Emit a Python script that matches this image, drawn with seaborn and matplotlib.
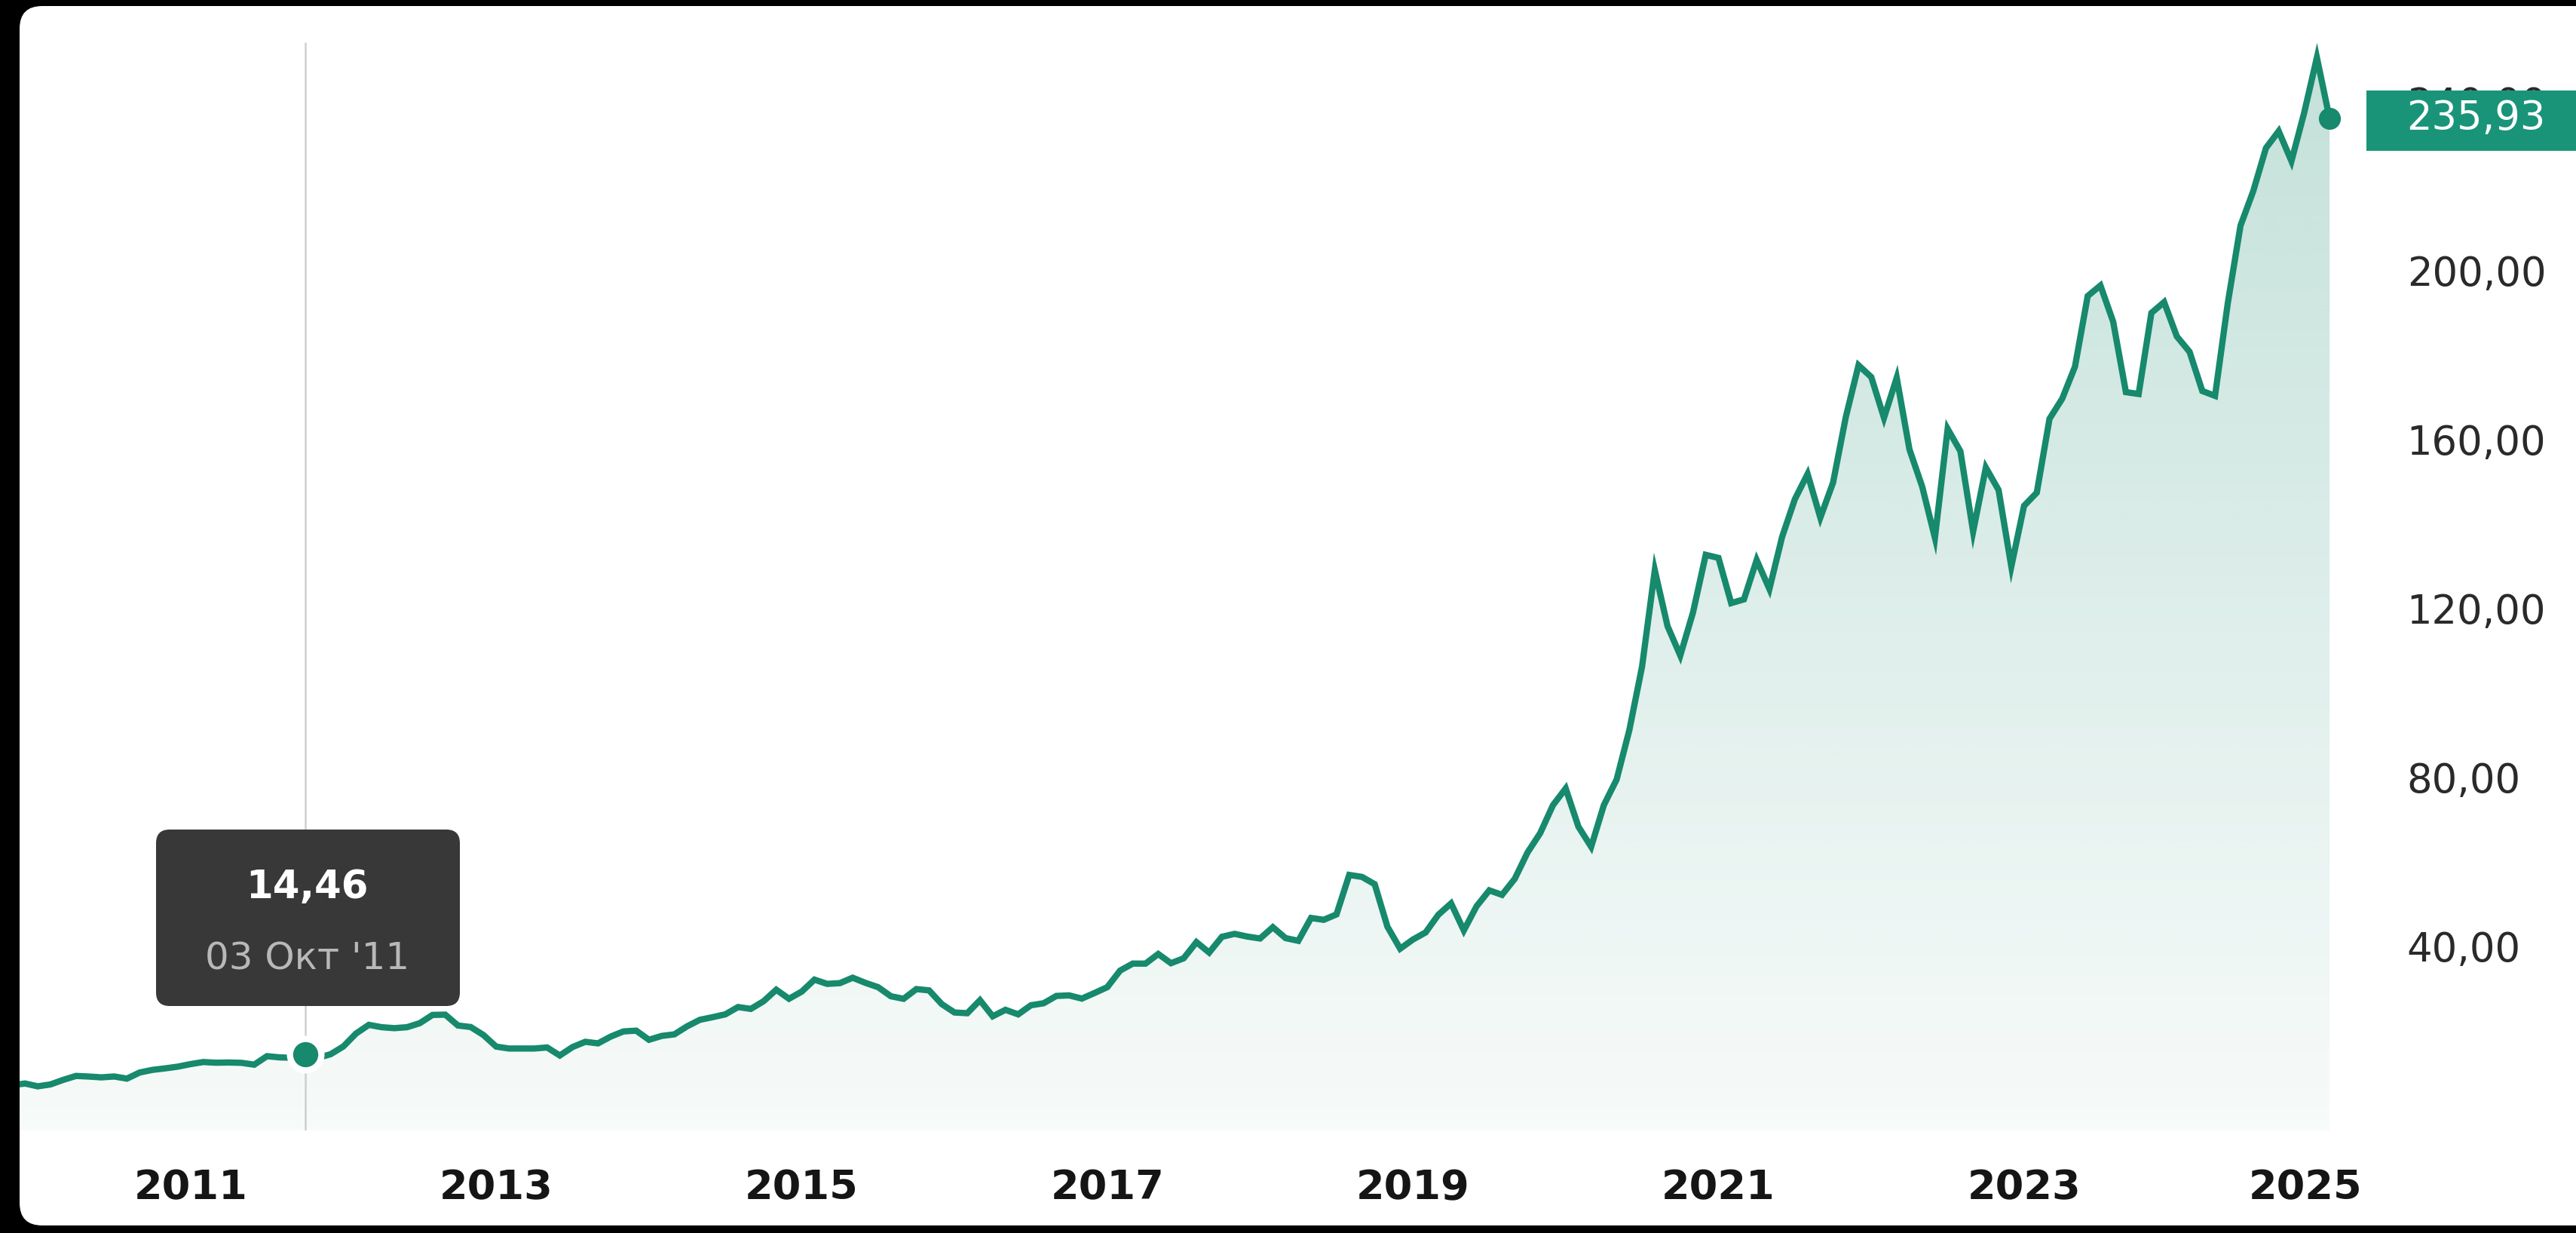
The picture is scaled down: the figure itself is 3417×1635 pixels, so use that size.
import numpy as np
import pandas as pd
import matplotlib
matplotlib.use("Agg")
import matplotlib.pyplot as plt
import matplotlib.transforms as mtransforms
from matplotlib.patches import FancyBboxPatch, Rectangle
import seaborn as sns

# ---------------- data (monthly closes, first month = Nov 2009) ----------------
start_month = "2009-11-01"
prices_2009 = [7.13, 7.53]
prices_2010 = [6.86, 7.31, 8.39, 9.32, 9.18, 8.98, 9.19, 8.68, 10.13, 10.75, 11.11, 11.52]
prices_2011 = [12.12, 12.61, 12.45, 12.50, 12.42, 11.99, 14.00, 13.71, 13.62, 14.46, 13.61, 14.46]
prices_2012 = [16.30, 19.37, 21.41, 20.86, 20.63, 20.86, 21.81, 23.76, 23.83, 21.26, 20.90, 19.01]
prices_2013 = [16.27, 15.81, 15.81, 15.81, 16.06, 14.16, 16.16, 17.40, 17.03, 18.64, 19.86, 20.04]
prices_2014 = [17.88, 18.79, 19.17, 21.07, 22.61, 23.23, 23.90, 25.63, 25.19, 27.00, 29.73, 27.59]
prices_2015 = [29.29, 32.12, 31.11, 31.29, 32.57, 31.36, 30.33, 28.19, 27.58, 29.88, 29.58, 26.32]
prices_2016 = [24.34, 24.17, 27.25, 23.44, 24.97, 23.90, 26.05, 26.53, 28.26, 28.39, 27.63, 28.96]
prices_2017 = [30.34, 34.25, 35.92, 35.91, 38.19, 36.01, 37.18, 41.00, 38.53, 42.26, 42.96, 42.31]
prices_2018 = [41.86, 44.53, 41.95, 41.31, 46.72, 46.28, 47.57, 56.91, 56.44, 54.72, 44.65, 39.44]
prices_2019 = [41.61, 43.29, 47.49, 50.17, 43.77, 49.48, 53.26, 52.19, 55.99, 62.19, 66.81, 73.41]
prices_2020 = [77.38, 68.34, 63.57, 73.45, 79.49, 91.20, 106.26, 129.04, 115.81, 108.86, 119.05, 132.69]
prices_2021 = [131.96, 121.26, 122.15, 131.46, 124.61, 136.96, 145.86, 151.83, 141.50, 149.80, 165.30, 177.57]
prices_2022 = [174.78, 165.12, 174.61, 157.65, 148.84, 136.72, 162.51, 157.22, 138.20, 153.34, 148.03, 129.93]
prices_2023 = [144.29, 147.41, 164.90, 169.68, 177.25, 193.97, 196.45, 187.87, 171.21, 170.77, 189.95, 192.53]
prices_2024 = [184.40, 180.75, 171.48, 170.33, 192.25, 210.62, 218.80, 229.00, 233.00, 225.91, 237.33, 250.42]
prices_2025 = [235.93]

x_tick_years = [2011, 2013, 2015, 2017, 2019, 2021, 2023, 2025]
y_tick_values = [40, 80, 120, 160, 200, 240]

tooltip_month = "2011-10-01"
tooltip_value_text = "14,46"
tooltip_date_text = "03 Окт '11"
last_value_text = "235,93"

# ---------------- build frame ----------------
prices = (prices_2009 + prices_2010 + prices_2011 + prices_2012 + prices_2013 + prices_2014
          + prices_2015 + prices_2016 + prices_2017 + prices_2018 + prices_2019 + prices_2020
          + prices_2021 + prices_2022 + prices_2023 + prices_2024 + prices_2025)
dates = pd.date_range(start_month, periods=len(prices), freq="MS")
df = pd.DataFrame({"date": dates, "price": prices})
df["t"] = df["date"].dt.year + (df["date"].dt.month - 1) / 12.0

# ---------------- style ----------------
sns.set_style("white")
plt.rcParams["font.family"] = ["DejaVu Sans"]

LINE = "#17896c"
TAG = "#1a9478"
TEAL_RGB = np.array([23, 137, 108]) / 255.0

W, H, DPI = 3417, 1635, 100
fig = plt.figure(figsize=(W / DPI, H / DPI), dpi=DPI, facecolor="black")

# white rounded card (display pixel coordinates), drawn below the axes
card = FancyBboxPatch((26, 10), W + 60 - 26, H - 8 - 10,
                      boxstyle="round,pad=0,rounding_size=30",
                      transform=None, facecolor="white", edgecolor="none", zorder=-5)
fig.patches.append(card)

# axes position
ax_left, ax_right = 26, 3151
ax_bottom_from_top, ax_top_from_top = 1499.2, 27.7
ax = fig.add_axes([ax_left / W, 1 - ax_bottom_from_top / H,
                   (ax_right - ax_left) / W, (ax_bottom_from_top - ax_top_from_top) / H])
ax.set_zorder(1)
ax.set_facecolor("none")
ax.patch.set_alpha(0)
ylo, yhi = -3.62, 259.1
xlo, xhi = 2009.881, 2025.30

# gradient fill under the curve
ny = 300
alpha = np.linspace(0.035, 0.26, ny)
rgba = np.zeros((ny, 1, 4))
rgba[..., :3] = TEAL_RGB
rgba[:, 0, 3] = alpha
im = ax.imshow(rgba, extent=[df["t"].iloc[0], df["t"].iloc[-1], ylo, 255],
               origin="lower", aspect="auto", zorder=1, interpolation="bilinear")
poly = ax.fill_between(df["t"], df["price"], ylo, facecolor="none", edgecolor="none")
im.set_clip_path(poly.get_paths()[0], transform=ax.transData)

# cursor line
t_tip = df.loc[df["date"] == pd.Timestamp(tooltip_month), "t"].iloc[0]
v_tip = df.loc[df["date"] == pd.Timestamp(tooltip_month), "price"].iloc[0]
ax.axvline(t_tip, ymin=0, ymax=0.98, color="#cfcfcf", lw=1.8, zorder=1.5)

# price line
sns.lineplot(data=df, x="t", y="price", ax=ax, color=LINE, linewidth=6.0,
             zorder=3, solid_joinstyle="miter", solid_capstyle="butt")

# highlighted point with white halo
ax.plot([t_tip], [v_tip], marker="o", ms=36, color="white", zorder=4, clip_on=False, mew=0)
ax.plot([t_tip], [v_tip], marker="o", ms=24, color=LINE, zorder=5, clip_on=False, mew=0)
# last point
ax.plot([df["t"].iloc[-1]], [df["price"].iloc[-1]], marker="o", ms=21, color=LINE,
        zorder=5, clip_on=False, mew=0)

ax.set_xlim(xlo, xhi)
ax.set_ylim(ylo, yhi)
for s in ax.spines.values():
    s.set_visible(False)
ax.grid(False)
ax.set_xlabel("")
ax.set_ylabel("")

# x ticks
ax.set_xticks(x_tick_years)
ax.set_xticklabels([str(y) for y in x_tick_years], fontsize=39, fontweight="bold", color="#151515")
ax.tick_params(axis="x", length=0, pad=36)
last_lbl = ax.get_xticklabels()[-1]
last_lbl.set_transform(last_lbl.get_transform() +
                       mtransforms.ScaledTranslation(-0.32, 0, fig.dpi_scale_trans))

# y ticks on the right
ax.yaxis.tick_right()
ax.set_yticks(y_tick_values)
ax.set_yticklabels([f"{v:.2f}".replace(".", ",") for v in y_tick_values],
                   fontsize=38, color="#2a2a2a")
for lbl in ax.get_yticklabels():
    lbl.set_horizontalalignment("left")
ax.tick_params(axis="y", length=0, pad=30)

# last-value tag (drawn above tick labels)
tag = Rectangle((3139, H - 200), 400, 80, transform=None, facecolor=TAG,
                edgecolor="none", zorder=10)
fig.patches.append(tag)
fig.text(3192 / W, 1 - 157 / H, last_value_text, color="white", fontsize=38,
         ha="left", va="center", zorder=11)

# tooltip
tip_box = FancyBboxPatch((207, H - 1334), 610 - 207, 1334 - 1100,
                         boxstyle="round,pad=0,rounding_size=18", transform=None,
                         facecolor="#383838", edgecolor="none", zorder=10)
fig.patches.append(tip_box)
fig.text(408 / W, 1 - 1177 / H, tooltip_value_text, color="white", fontsize=37,
         fontweight="bold", ha="center", va="center", zorder=11)
fig.text(408 / W, 1 - 1271 / H, tooltip_date_text, color="#b8b8b8", fontsize=36,
         ha="center", va="center", zorder=11)

fig.savefig("out.png", dpi=DPI, facecolor="black")
